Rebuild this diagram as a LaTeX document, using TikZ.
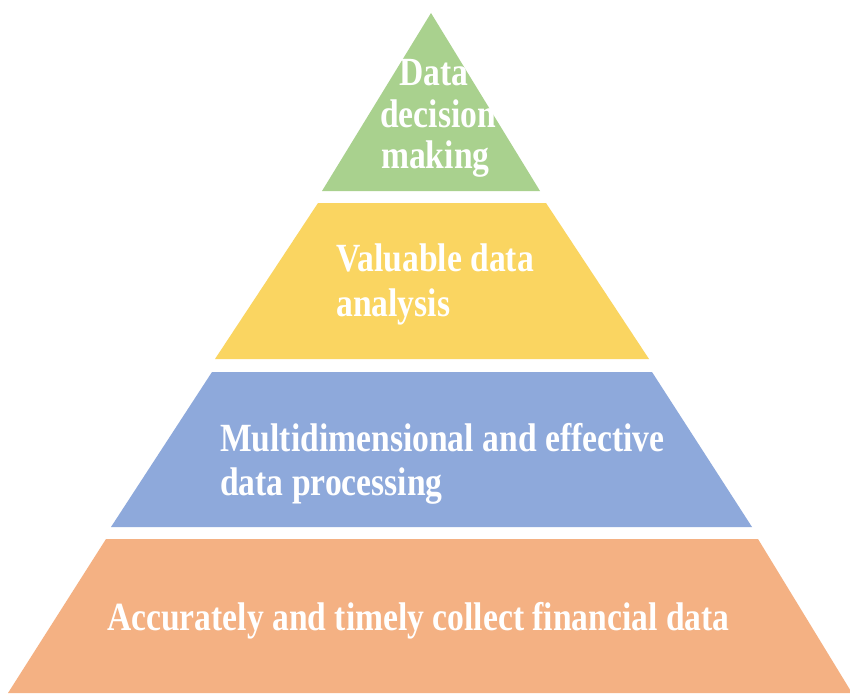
\documentclass[tikz,border=0pt]{standalone}
\usepackage{fontspec}
\setmainfont{Liberation Serif}
\usepackage{graphicx}
\definecolor{lvgreen}{HTML}{A9D18E}
\definecolor{lvyellow}{HTML}{FAD561}
\definecolor{lvblue}{HTML}{8EA9DB}
\definecolor{lvorange}{HTML}{F4B183}
\tikzset{
  lvtext/.style={anchor=base west, inner sep=0pt, text=white, font=\fontsize{40}{48}\selectfont\bfseries},
}
\newcommand{\cond}[1]{\scalebox{0.84}[1]{#1}}
\begin{document}
\begin{tikzpicture}[x=1pt,y=-1pt]
\useasboundingbox (0,0) rectangle (850,693);
\fill[white] (0,0) rectangle (850,693);
% layers
\fill[lvgreen] (431,13) -- (540,191) -- (322,191) -- cycle;
\fill[lvyellow] (318,203) -- (546,203) -- (649,359) -- (215,359) -- cycle;
\fill[lvblue] (212,372) -- (652,372) -- (752,527) -- (111,527) -- cycle;
\fill[lvorange] (106,539) -- (758,539) -- (852,693) -- (8,693) -- cycle;
% texts
\node[lvtext] (g1) at (399,85) {\cond{Data}};
\node[lvtext] (g2) at (380,127) {\cond{decision}};
\node[lvtext] (g3) at (381,168) {\cond{making}};
\node[lvtext] (y1) at (336,271) {\cond{Valuable data}};
\node[lvtext] (y2) at (336,316) {\cond{analysis}};
\node[lvtext] (b1) at (220,451) {\cond{Multidimensional and effective}};
\node[lvtext] (b2) at (220,495) {\cond{data processing}};
\node[lvtext] (o1) at (107,630) {\cond{Accurately and timely collect financial data}};
\end{tikzpicture}
\end{document}
